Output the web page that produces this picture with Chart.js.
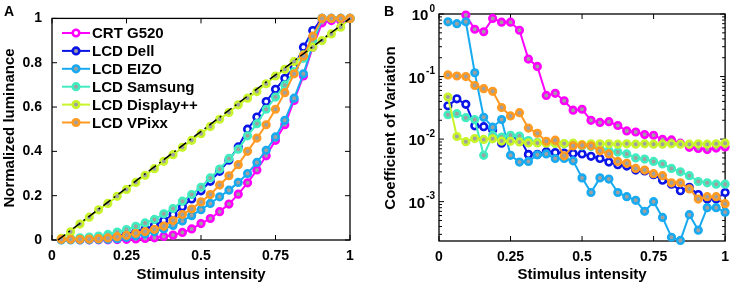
<!DOCTYPE html>
<html>
<head>
<meta charset="utf-8">
<script src="https://cdn.jsdelivr.net/npm/chart.js@4/dist/chart.umd.min.js"></script>
<style>
  body { margin: 0; background: #fff; }
  #wrap { position: relative; width: 737px; height: 286px; }
  canvas { position: absolute; top: 0; }
</style>
</head>
<body>
<div id="wrap">
  <canvas id="lumChart" width="370" height="286" style="left:0px"></canvas>
  <canvas id="covChart" width="367" height="286" style="left:370px"></canvas>
</div>
<script>
// stimulus intensity (k/32)
const stimulus = [0.03125, 0.0625, 0.09375, 0.125, 0.15625, 0.1875, 0.21875, 0.25,
  0.28125, 0.3125, 0.34375, 0.375, 0.40625, 0.4375, 0.46875, 0.5,
  0.53125, 0.5625, 0.59375, 0.625, 0.65625, 0.6875, 0.71875, 0.75,
  0.78125, 0.8125, 0.84375, 0.875, 0.90625, 0.9375, 0.96875, 1];

const seriesNames = ['CRT G520', 'LCD Dell', 'LCD EIZO', 'LCD Samsung', 'LCD Display++', 'LCD VPixx'];
const seriesColors = ['#ff00ff', '#0a14e6', '#18aaf0', '#40ecc0', '#c8f52a', '#ff9a22'];
const markerFill = ['#a0a0a0', '#ffffff', '#a0a0a0', '#a0a0a0', '#a0a0a0', '#a0a0a0'];
const legendFill = ['#ffffff', '#a0a0a0', '#a0a0a0', '#a0a0a0', '#a0a0a0', '#a0a0a0'];

// panel A: normalized luminance
const lumCRT = [null, null, 0.001, 0.001, 0.001, 0.001, 0.002, 0.003, 0.005, 0.007, 0.010, 0.016, 0.022, 0.034, 0.050, 0.074,
  0.097, 0.128, 0.162, 0.207, 0.258, 0.316, 0.38, 0.45, 0.52, 0.63, 0.74, 0.87, 0.98, 0.99, 0.99, 1.0];
const lumDell = [0.002, 0.003, 0.004, 0.006, 0.009, 0.013, 0.019, 0.027, 0.037, 0.050, 0.066, 0.088, 0.115, 0.150, 0.185, 0.222,
  0.265, 0.31, 0.36, 0.42, 0.50, 0.555, 0.625, 0.68, 0.73, 0.78, 0.87, 0.945, 1.0, 1.0, 1.0, 1.0];
const lumEIZO = [0.0, 0.0, 0.0, 0.001, 0.002, 0.003, 0.006, 0.012, 0.019, 0.027, 0.037, 0.050, 0.066, 0.086, 0.11, 0.137,
  0.165, 0.195, 0.225, 0.26, 0.30, 0.35, 0.405, 0.465, 0.54, 0.64, 0.75, 0.88, 1.0, 1.0, 1.0, 1.0];
const lumSamsung = [0.005, 0.007, 0.010, 0.013, 0.018, 0.025, 0.036, 0.047, 0.062, 0.077, 0.093, 0.118, 0.142, 0.175, 0.205, 0.238,
  0.28, 0.32, 0.368, 0.41, 0.47, 0.525, 0.59, 0.645, 0.70, 0.76, 0.82, 0.90, 1.0, 1.0, 1.0, 1.0];
const lumDisplay = [0.008, 0.037, 0.072, 0.103, 0.136, 0.165, 0.197, 0.228, 0.26, 0.292, 0.322, 0.355, 0.385, 0.418, 0.45, 0.48,
  0.512, 0.545, 0.575, 0.61, 0.64, 0.67, 0.705, 0.74, 0.77, 0.805, 0.835, 0.87, 0.90, 0.93, 0.96, 1.0];
const lumVPixx = [0.003, 0.003, 0.003, 0.004, 0.006, 0.009, 0.015, 0.021, 0.030, 0.038, 0.048, 0.063, 0.088, 0.115, 0.14, 0.172,
  0.205, 0.248, 0.29, 0.34, 0.40, 0.46, 0.52, 0.59, 0.665, 0.75, 0.83, 0.92, 1.0, 1.0, 1.0, 1.0];
const refLineX = [0.02, 1];
const refLineY = [0, 1];

// panel B: coefficient of variation
const covCRT = [null, null, 0.96, 0.57, 0.52, 0.85, 0.74, 0.74, 0.55, 0.19, 0.145, 0.05, 0.054, 0.041, 0.029, 0.03,
  0.02, 0.0185, 0.019, 0.0165, 0.0135, 0.013, 0.0118, 0.0115, 0.0099, 0.0097, 0.0086, 0.0074, 0.0071, 0.0068, 0.0072, 0.0075];
const covDell = [0.034, 0.044, 0.036, 0.0163, 0.0158, 0.014, 0.0086, 0.011, 0.0105, 0.0057, 0.0057, 0.0063, 0.0061, 0.006, 0.0059, 0.0058,
  0.0053, 0.0049, 0.0043, 0.0039, 0.0037, 0.0032, 0.0031, 0.0027, 0.0022, 0.0019, 0.0015, 0.0017, 0.0013, 0.0011, 0.0011, 0.0014];
const covEIZO = [0.75, 0.70, 0.75, 0.115, 0.0223, 0.0155, 0.0205, 0.0055, 0.0043, 0.0044, 0.0056, 0.0058, 0.0049, 0.0049, 0.0045, 0.0024,
  0.0014, 0.0024, 0.0023, 0.0014, 0.0012, 0.00105, 0.0007, 0.001, 0.00056, 0.00027, 0.00024, 0.00062, 0.00035, 0.0008, 0.0008, 0.00068];
const covSamsung = [0.0245, 0.0255, 0.022, 0.0205, 0.0055, 0.0115, 0.0108, 0.0115, 0.0112, 0.0095, 0.0089, 0.0088, 0.0086, 0.0084, 0.0082, 0.0078,
  0.0076, 0.0072, 0.0065, 0.0062, 0.0058, 0.005, 0.0048, 0.0044, 0.004, 0.0034, 0.003, 0.0026, 0.0021, 0.002, 0.0019, 0.0019];
const covDisplay = [0.047, 0.011, 0.0091, 0.0102, 0.0099, 0.0101, 0.0093, 0.0092, 0.009, 0.0087, 0.0087, 0.0086, 0.0086, 0.0085, 0.0086, 0.0082,
  0.0084, 0.0084, 0.0084, 0.0083, 0.0084, 0.0083, 0.0084, 0.0083, 0.0083, 0.0084, 0.0083, 0.0083, 0.0084, 0.0083, 0.0084, 0.0086];
const covVPixx = [0.106, 0.102, 0.10, 0.072, 0.064, 0.058, 0.032, 0.0235, 0.0265, 0.015, 0.0124, 0.0092, 0.0096, 0.0054, 0.0078, 0.008,
  0.0078, 0.0065, 0.0058, 0.0044, 0.0041, 0.0034, 0.0032, 0.0028, 0.0026, 0.002, 0.002, 0.0016, 0.0011, 0.0012, 0.0012, 0.00093];

const xTicks = [0, 0.25, 0.5, 0.75, 1];
const lumTicks = [0, 0.2, 0.4, 0.6, 0.8, 1];
const covTicks = [0.001, 0.01, 0.1, 1];
const covTickExp = ['-3', '-2', '-1', '0'];

const FONT = '"Liberation Sans", Arial, sans-serif';
Chart.defaults.font.family = FONT;
Chart.defaults.font.weight = 'bold';
Chart.defaults.font.size = 14;
Chart.defaults.color = '#000';

const toPoints = (ys) => stimulus.map((x, i) => ({ x: x, y: ys[i] }));

const makeSets = (lists) => lists.map((ys, i) => ({
  label: seriesNames[i],
  data: toPoints(ys),
  borderColor: seriesColors[i],
  backgroundColor: seriesColors[i],
  borderWidth: 2,
  pointRadius: 3.3,
  pointBorderWidth: 2.6,
  pointBorderColor: seriesColors[i],
  pointBackgroundColor: markerFill[i],
  tension: 0,
  clip: false,
  order: 10 - i
}));

// frame with inward ticks, like matlab axes
const boxPlugin = {
  id: 'box',
  beforeDatasetsDraw(chart) {
    const { ctx, chartArea: a, scales } = chart;
    ctx.save();
    ctx.strokeStyle = '#000';
    ctx.lineWidth = 1.3;
    ctx.strokeRect(a.left, a.top, a.right - a.left, a.bottom - a.top);
    ctx.lineWidth = 1;
    ctx.beginPath();
    xTicks.forEach(v => {
      const p = scales.x.getPixelForValue(v);
      ctx.moveTo(p, a.bottom); ctx.lineTo(p, a.bottom - 5);
      ctx.moveTo(p, a.top); ctx.lineTo(p, a.top + 5);
    });
    const y = scales.y;
    const major = y.type === 'logarithmic' ? covTicks : lumTicks;
    major.forEach(v => {
      const p = y.getPixelForValue(v);
      ctx.moveTo(a.left, p); ctx.lineTo(a.left + 5, p);
      ctx.moveTo(a.right, p); ctx.lineTo(a.right - 5, p);
    });
    if (y.type === 'logarithmic') {
      for (let d = -4; d < 0; d++) {
        for (let m = 2; m <= 9; m++) {
          const v = m * Math.pow(10, d);
          if (v < y.min || v > y.max) continue;
          const p = y.getPixelForValue(v);
          ctx.moveTo(a.left, p); ctx.lineTo(a.left + 3, p);
          ctx.moveTo(a.right, p); ctx.lineTo(a.right - 3, p);
        }
      }
    }
    ctx.stroke();
    ctx.restore();
  },
  afterDraw(chart, args, opts) {
    const { ctx, chartArea: a } = chart;
    ctx.save();
    ctx.fillStyle = '#000';
    ctx.font = 'bold 15px ' + FONT;
    ctx.textAlign = 'center';
    ctx.textBaseline = 'middle';
    ctx.fillText('Stimulus intensity', (a.left + a.right) / 2, 275);
    ctx.save();
    ctx.translate(opts.yTitleX, 128);
    ctx.rotate(-Math.PI / 2);
    ctx.fillText(opts.yTitle, 0, 0);
    ctx.restore();
    ctx.font = 'bold 14px ' + FONT;
    ctx.fillText(opts.panel, opts.panelX, 12);
    ctx.restore();
  }
};

const legendPlugin = {
  id: 'lumLegend',
  afterDatasetsDraw(chart) {
    const ctx = chart.ctx;
    ctx.save();
    ctx.font = 'bold 15px ' + FONT;
    ctx.textBaseline = 'middle';
    seriesNames.forEach((name, i) => {
      const y = 33 + i * 17.9;
      ctx.strokeStyle = seriesColors[i];
      ctx.lineWidth = 2;
      ctx.beginPath();
      ctx.moveTo(62, y); ctx.lineTo(90, y);
      ctx.stroke();
      ctx.beginPath();
      ctx.arc(76, y, 3.3, 0, Math.PI * 2);
      ctx.fillStyle = legendFill[i];
      ctx.fill();
      ctx.lineWidth = 2.6;
      ctx.stroke();
      ctx.fillStyle = '#000';
      ctx.fillText(name, 92, y + 1);
    });
    ctx.restore();
  }
};

const logLabels = {
  id: 'logLabels',
  afterDraw(chart) {
    const { ctx, chartArea: a, scales } = chart;
    ctx.save();
    ctx.fillStyle = '#000';
    ctx.textAlign = 'right';
    ctx.textBaseline = 'middle';
    covTicks.forEach((v, i) => {
      const p = scales.y.getPixelForValue(v);
      ctx.font = 'bold 10px ' + FONT;
      const e = covTickExp[i];
      const w = ctx.measureText(e).width;
      ctx.fillText(e, a.left - 4, p - 5);
      ctx.font = 'bold 15px ' + FONT;
      ctx.fillText('10', a.left - 5 - w, p + 2);
    });
    ctx.restore();
  }
};

const xScale = (h) => ({
  type: 'linear', min: 0, max: 1,
  grid: { display: false, drawTicks: false },
  border: { display: false },
  afterBuildTicks: s => { s.ticks = xTicks.map(v => ({ value: v })); },
  afterFit: s => { s.height = h; },
  ticks: { padding: 8, maxRotation: 0, minRotation: 0, autoSkip: false,
           callback: v => String(v) }
});

new Chart(document.getElementById('lumChart'), {
  type: 'line',
  data: {
    datasets: [{
      label: 'ref',
      data: refLineX.map((x, i) => ({ x: x, y: refLineY[i] })),
      borderColor: '#000', borderWidth: 1.5, borderDash: [9, 4, 2, 4],
      pointRadius: 0, order: 0, clip: false
    }].concat(makeSets([lumCRT, lumDell, lumEIZO, lumSamsung, lumDisplay, lumVPixx]))
  },
  options: {
    responsive: false, animation: false, devicePixelRatio: 1,
    layout: { padding: { left: 0, top: 14, right: 20, bottom: 0 } },
    plugins: { legend: { display: false }, tooltip: { enabled: false },
      box: { yTitle: 'Normalized luminance', yTitleX: 10, panel: 'A', panelX: 9 } },
    scales: {
      x: xScale(46),
      y: {
        type: 'linear', min: 0, max: 1,
        grid: { display: false, drawTicks: false },
        border: { display: false },
        afterBuildTicks: s => { s.ticks = lumTicks.map(v => ({ value: v })); },
        afterFit: s => { s.width = 52; },
        ticks: { padding: 10, callback: v => String(v) }
      }
    }
  },
  plugins: [boxPlugin, legendPlugin]
});

new Chart(document.getElementById('covChart'), {
  type: 'line',
  data: {
    datasets: makeSets([covCRT, covDell, covEIZO, covSamsung, covDisplay, covVPixx])
  },
  options: {
    responsive: false, animation: false, devicePixelRatio: 1,
    layout: { padding: { left: 0, top: 14, right: 5, bottom: 0 } },
    plugins: { legend: { display: false }, tooltip: { enabled: false },
      box: { yTitle: 'Coefficient of Variation', yTitleX: 21, panel: 'B', panelX: 19 } },
    scales: {
      x: xScale(45),
      y: {
        type: 'logarithmic', min: 0.000235, max: 1,
        grid: { display: false, drawTicks: false },
        border: { display: false },
        afterBuildTicks: s => { s.ticks = covTicks.map(v => ({ value: v })); },
        afterFit: s => { s.width = 69; },
        ticks: { display: false }
      }
    }
  },
  plugins: [boxPlugin, logLabels]
});
</script>
</body>
</html>
